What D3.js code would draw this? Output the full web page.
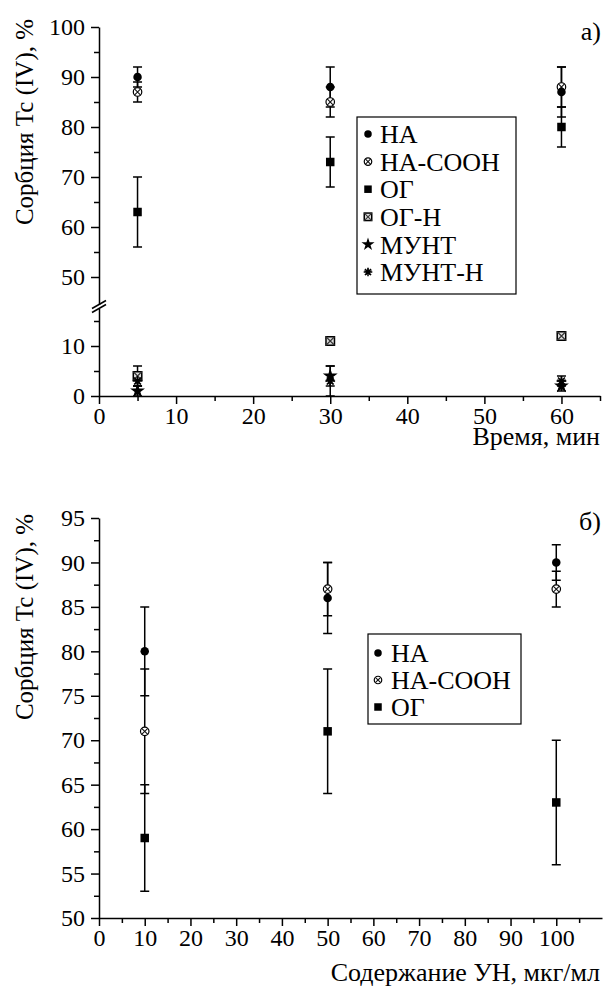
<!DOCTYPE html>
<html>
<head>
<meta charset="utf-8">
<script src="https://cdn.jsdelivr.net/npm/d3@7"></script>
<style>
  body { margin: 0; background: #fff; }
  svg, text { font-family: "Liberation Serif", "Times New Roman", serif; fill: #000; }
</style>
</head>
<body>
<svg id="chart" width="603" height="987"></svg>
<script>
// ---- Panel a: sorption vs. contact time ----
const timeMin = [5, 30, 60];
const timeTicks = [0, 10, 20, 30, 40, 50, 60];
const timeMinorTicks = [5, 15, 25, 35, 45, 55, 65];
const upperTicks = [50, 60, 70, 80, 90, 100];
const upperMinorTicks = [55, 65, 75, 85, 95];
const lowerTicks = [0, 10];
const lowerMinorTicks = [5, 15];

const haT = [90, 88, 87],      haTErr = [2, 4, 5];
const haCoohT = [87, 85, 88],  haCoohTErr = [2, 3, 4];
const ogT = [63, 73, 80],      ogTErr = [7, 5, 4];
const ogHT = [4, 11, 12],      ogHTErr = [2, 0.5, 0.5];
const muntT = [1, 4, 2],       muntTErr = [1, 2, 1];
const muntHT = [3, 3, 3],      muntHTErr = [1, 3, 1];

// ---- Panel b: sorption vs. nanomaterial content ----
const dose = [10, 50, 100];
const doseTicks = [0, 10, 20, 30, 40, 50, 60, 70, 80, 90, 100];
const doseMinorTicks = [5, 15, 25, 35, 45, 55, 65, 75, 85, 95, 105];
const sorbTicks = [50, 55, 60, 65, 70, 75, 80, 85, 90, 95];
const sorbMinorTicks = [52.5, 57.5, 62.5, 67.5, 72.5, 77.5, 82.5, 87.5, 92.5];

const haD = [80, 86, 90],      haDErr = [5, 4, 2];
const haCoohD = [71, 87, 87],  haCoohDErr = [7, 3, 2];
const ogD = [59, 71, 63],      ogDErr = [6, 7, 7];

const seriesNames = ["НА", "НА-СООН", "ОГ", "ОГ-Н", "МУНТ", "МУНТ-Н"];
const yTitle = "Сорбция Tc (IV), %";

const svg = d3.select("#chart");
const FONT = '"Liberation Serif", "Times New Roman", serif';
const TICK_FS = 24, TITLE_FS = 25, LABEL_FS = 26, LEG_FS = 26;

// marker drawing helpers
function drawMarker(g, kind, x, y, s) {
  const r = s / 2;
  if (kind === "circle") {
    g.append("circle").attr("cx", x).attr("cy", y).attr("r", r).attr("fill", "#000");
  } else if (kind === "circleX") {
    g.append("circle").attr("cx", x).attr("cy", y).attr("r", r)
      .attr("fill", "#fff").attr("stroke", "#000").attr("stroke-width", 1.2);
    const d = r * 0.72;
    g.append("path").attr("d", `M${x-d},${y-d}L${x+d},${y+d}M${x-d},${y+d}L${x+d},${y-d}`)
      .attr("stroke", "#111").attr("stroke-width", 1.1);
  } else if (kind === "square") {
    g.append("rect").attr("x", x - r).attr("y", y - r).attr("width", s).attr("height", s).attr("fill", "#000");
  } else if (kind === "squareX") {
    g.append("rect").attr("x", x - r).attr("y", y - r).attr("width", s).attr("height", s)
      .attr("fill", "#ddd").attr("stroke", "#000").attr("stroke-width", 1.5);
    g.append("path").attr("d", `M${x-r},${y-r}L${x+r},${y+r}M${x-r},${y+r}L${x+r},${y-r}`)
      .attr("stroke", "#333").attr("stroke-width", 1.1);
  } else if (kind === "star") {
    g.append("path").attr("d", d3.symbol(d3.symbolStar, s * s * 0.95)())
      .attr("transform", `translate(${x},${y})`).attr("fill", "#000");
  } else if (kind === "asterisk") {
    const rr = r * 1.15;
    let p = "";
    for (let i = 0; i < 4; i++) {
      const a = i * Math.PI / 4;
      p += `M${x - rr*Math.cos(a)},${y - rr*Math.sin(a)}L${x + rr*Math.cos(a)},${y + rr*Math.sin(a)}`;
    }
    g.append("path").attr("d", p).attr("stroke", "#000").attr("stroke-width", 1.5);
    g.append("path").attr("d", d3.symbol(d3.symbolStar, s * s * 0.4)())
      .attr("transform", `translate(${x},${y})`).attr("fill", "#000");
  }
}

function drawErr(g, x, y1, y2) {
  const c = 4.5;
  g.append("path")
    .attr("d", `M${x},${y1}L${x},${y2}M${x-c},${y1}L${x+c},${y1}M${x-c},${y2}L${x+c},${y2}`)
    .attr("stroke", "#000").attr("stroke-width", 1.5).attr("fill", "none");
}

function styleAxis(sel) {
  sel.attr("font-family", FONT);
  sel.selectAll("path.domain").attr("stroke", "#000").attr("stroke-width", 1.5);
  sel.selectAll(".tick line").attr("stroke", "#000").attr("stroke-width", 1.5);
  sel.selectAll(".tick text").style("font-family", FONT).style("font-size", TICK_FS + "px").attr("fill", "#000");
}

function addText(g, x, y, size, anchor, str) {
  return g.append("text").attr("x", x).attr("y", y).attr("text-anchor", anchor)
    .style("font-family", FONT).style("font-size", size + "px").text(str);
}

// ================= Panel a =================
const xT = d3.scaleLinear().domain([0, 65]).range([99, 600]);
const yUp = d3.scaleLinear().domain([44.5, 100]).range([304.5, 27]);
const yLo = d3.scaleLinear().domain([0, 17.5]).range([396, 308.5]);
const yA = v => (v >= 30 ? yUp(v) : yLo(v));

const gA = svg.append("g");

// x axis
const xAxisA = gA.append("g").attr("transform", `translate(0,${yLo(0)})`)
  .call(d3.axisBottom(xT).tickValues(timeTicks).tickSize(8).tickSizeOuter(0).tickPadding(3));
styleAxis(xAxisA);
gA.append("g").attr("transform", `translate(0,${yLo(0)})`)
  .call(d3.axisBottom(xT).tickValues(timeMinorTicks).tickSize(5).tickSizeOuter(0).tickFormat(""))
  .call(s => s.select(".domain").remove()).call(styleAxis);

// broken y axis: lower and upper segments
[[yLo, lowerTicks, lowerMinorTicks], [yUp, upperTicks, upperMinorTicks]].forEach(([sc, maj, min]) => {
  const a = gA.append("g").attr("transform", `translate(${xT(0)},0)`)
    .call(d3.axisLeft(sc).tickValues(maj).tickSize(8).tickSizeOuter(0).tickPadding(6));
  styleAxis(a);
  const b = gA.append("g").attr("transform", `translate(${xT(0)},0)`)
    .call(d3.axisLeft(sc).tickValues(min).tickSize(5).tickSizeOuter(0).tickFormat(""));
  b.select(".domain").remove();
  styleAxis(b);
});
// break marks
[yLo.range()[1], yUp.range()[0]].forEach(yb => {
  gA.append("path").attr("d", `M${xT(0)-7},${yb+4}L${xT(0)+7},${yb-4}`)
    .attr("stroke", "#000").attr("stroke-width", 1.5);
});

const seriesA = [
  { v: haCoohT, e: haCoohTErr, m: "circleX" },
  { v: haT, e: haTErr, m: "circle" },
  { v: ogT, e: ogTErr, m: "square" },
  { v: ogHT, e: ogHTErr, m: "squareX" },
  { v: muntHT, e: muntHTErr, m: "asterisk" },
  { v: muntT, e: muntTErr, m: "star" }
];
seriesA.forEach(s => {
  s.v.forEach((v, i) => {
    const lo = Math.max(v - s.e[i], 0), hi = v + s.e[i];
    drawErr(gA, xT(timeMin[i]), yA(hi), yA(lo));
  });
});
seriesA.forEach(s => {
  s.v.forEach((v, i) => drawMarker(gA, s.m, xT(timeMin[i]), yA(v), 8.5));
});

// legend a
const legA = gA.append("g");
legA.append("rect").attr("x", 357).attr("y", 117).attr("width", 159).attr("height", 177)
  .attr("fill", "#fff").attr("stroke", "#000").attr("stroke-width", 1.2);
const legKindsA = ["circle", "circleX", "square", "squareX", "star", "asterisk"];
seriesNames.forEach((n, i) => {
  const y = 134 + i * 27.6;
  drawMarker(legA, legKindsA[i], 368, y, 7.5);
  addText(legA, 380, y, LEG_FS, "start", n).attr("dy", "0.35em");
});

addText(gA, 0, 0, TITLE_FS, "middle", yTitle).attr("transform", `translate(33,122) rotate(-90)`);
addText(gA, 601, 40, LABEL_FS, "end", "а)");
addText(gA, 600, 445, LABEL_FS, "end", "Время, мин");

// ================= Panel b =================
const xD = d3.scaleLinear().domain([0, 110]).range([99, 602]);
const yD = d3.scaleLinear().domain([50, 95]).range([918, 518]);
const gB = svg.append("g");

const xAxisB = gB.append("g").attr("transform", `translate(0,${yD(50)})`)
  .call(d3.axisBottom(xD).tickValues(doseTicks).tickSize(8).tickSizeOuter(0).tickPadding(3));
styleAxis(xAxisB);
gB.append("g").attr("transform", `translate(0,${yD(50)})`)
  .call(d3.axisBottom(xD).tickValues(doseMinorTicks).tickSize(5).tickSizeOuter(0).tickFormat(""))
  .call(s => s.select(".domain").remove()).call(styleAxis);

const yAxisB = gB.append("g").attr("transform", `translate(${xD(0)},0)`)
  .call(d3.axisLeft(yD).tickValues(sorbTicks).tickSize(8).tickSizeOuter(0).tickPadding(6));
styleAxis(yAxisB);
gB.append("g").attr("transform", `translate(${xD(0)},0)`)
  .call(d3.axisLeft(yD).tickValues(sorbMinorTicks).tickSize(5).tickSizeOuter(0).tickFormat(""))
  .call(s => s.select(".domain").remove()).call(styleAxis);

const seriesB = [
  { v: haCoohD, e: haCoohDErr, m: "circleX" },
  { v: haD, e: haDErr, m: "circle" },
  { v: ogD, e: ogDErr, m: "square" }
];
seriesB.forEach(s => s.v.forEach((v, i) => drawErr(gB, xD(dose[i]), yD(v + s.e[i]), yD(v - s.e[i]))));
seriesB.forEach(s => s.v.forEach((v, i) => drawMarker(gB, s.m, xD(dose[i]), yD(v), 8.5)));

const legB = gB.append("g");
legB.append("rect").attr("x", 368).attr("y", 634).attr("width", 153).attr("height", 90)
  .attr("fill", "#fff").attr("stroke", "#000").attr("stroke-width", 1.2);
["circle", "circleX", "square"].forEach((k, i) => {
  const y = 653 + i * 27;
  drawMarker(legB, k, 378, y, 7.5);
  addText(legB, 391, y, LEG_FS, "start", seriesNames[i]).attr("dy", "0.35em");
});

addText(gB, 0, 0, TITLE_FS, "middle", yTitle).attr("transform", `translate(33,617) rotate(-90)`);
addText(gB, 601, 530, LABEL_FS, "end", "б)");
addText(gB, 600, 981, LABEL_FS, "end", "Содержание УН, мкг/мл");
</script>
</body>
</html>
